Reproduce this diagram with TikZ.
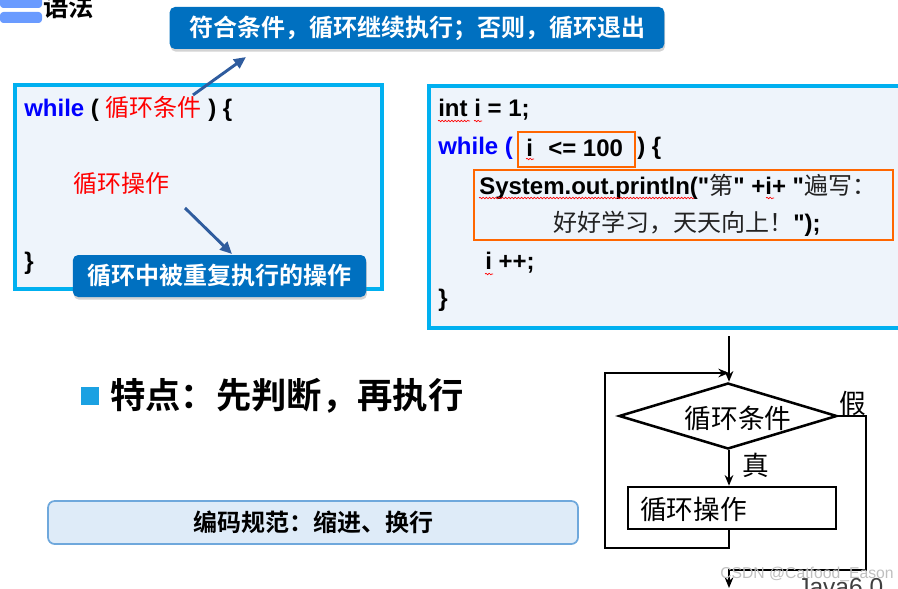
\documentclass[tikz,border=0pt]{standalone}
\usepackage{fontspec}
\setmainfont{Liberation Sans}
\newfontfamily\qfont{Liberation Sans}
\newfontfamily\cjk{Noto Sans CJK SC}[BoldFont={Noto Sans CJK SC Bold}]
\usetikzlibrary{arrows.meta,shapes.geometric,shadows,decorations.pathmorphing}
\definecolor{cyanb}{HTML}{00B0F0}
\definecolor{boxfill}{HTML}{EEF4FB}
\definecolor{tagblue}{HTML}{0070C0}
\definecolor{ptrblue}{HTML}{2F5C9E}
\definecolor{kwblue}{HTML}{0000FF}
\definecolor{orangeb}{HTML}{FF6600}
\definecolor{sqblue}{HTML}{1BA1E2}
\definecolor{notefill}{HTML}{DEEBF8}
\definecolor{noteline}{HTML}{6FA8DC}
\definecolor{iconblue}{HTML}{6A9BFF}
\definecolor{cjkgray}{HTML}{222222}
\newcommand{\fsz}[1]{\fontsize{#1}{#1}\selectfont}
\newcommand{\dq}{{\qfont\char34\relax}}
\tikzset{
  codebox/.style={draw=cyanb, fill=boxfill, line width=3pt, inner sep=0pt},
  bluetag/.style={fill=tagblue, rounded corners=4pt, inner sep=0pt, text=white,
    font=\cjk\bfseries\fsz{18},
    drop shadow={shadow xshift=0.6pt, shadow yshift=-2pt, opacity=0.35}},
  pointer/.style={draw=ptrblue, line width=2.2pt, -{Triangle[length=9pt,width=8pt]}},
  codetxt/.style={anchor=west, inner sep=0pt, font=\bfseries\fsz{18}},
  orangebox/.style={draw=orangeb, line width=2.2pt, inner sep=0pt},
  squig/.style={draw=red, line width=0.5pt, decorate,
    decoration={snake, amplitude=0.55pt, segment length=2.4pt}},
  flowline/.style={draw=black, line width=1.9pt},
  flowarrow/.style={flowline, -{Stealth[length=8pt,width=6.5pt]}},
  flowtxt/.style={inner sep=0pt, font=\cjk\fsz{20}},
}
\begin{document}
\begin{tikzpicture}[x=0.75pt,y=-0.75pt]
\useasboundingbox (0,0) rectangle (898,588);

% header icon and title
\fill[iconblue, rounded corners=2.5pt] (0,-4) rectangle (42,8);
\fill[iconblue, rounded corners=2.5pt] (0,12) rectangle (42,23);
\node (title) [anchor=base west, inner sep=0pt, font=\cjk\bfseries\fsz{19}] at (43,17) {语法};

% left code box
\node (lbox) [codebox, anchor=north west, minimum width=275.25pt, minimum height=153pt] at (13,83) {};
\node (lwhile) [codetxt] at (24,109) {{\color{kwblue}while} ( {\cjk\mdseries\color{red}循环条件} ) \{};
\node (lop) [codetxt, font=\cjk\fsz{18}, text=red] at (73,183) {循环操作};
\node (lend) [codetxt] at (24,263) {\}};

% right code box
\node (rbox) [codebox, anchor=north west, minimum width=360pt, minimum height=181.5pt] at (427,84) {};
\node (rint) [codetxt] at (438,110) {int i = 1;};
\node (rwhile) [codetxt] at (438,148) {\color{kwblue}while (};
\node (condbox) [orangebox, minimum width=87.75pt, minimum height=26.25pt] at (576.5,149.5) {};
\node (ri) [codetxt] at (526,148) {i};
\node (rle) [codetxt] at (548,148) {<= 100};
\node (rclose) [codetxt] at (637,148) {) \{};
\node (bodybox) [orangebox, minimum width=314.25pt, minimum height=52.5pt] at (683.5,205) {};
\node (rsys) [codetxt] at (479,187) {System.out.println(\dq{\cjk\mdseries\color{cjkgray}第}\dq{} +i+ \dq{\cjk\mdseries\color{cjkgray}遍写：}};
\node (rsys2) [codetxt] at (553,224) {{\cjk\mdseries\color{cjkgray}好好学习，天天向上！}\dq);};
\node (rinc) [codetxt] at (485,263) {i ++;};
\node (rend) [codetxt] at (438,300) {\}};

% spell-check squiggles
\draw[squig] (438,121) -- (470,121);
\draw[squig] (474,121) -- (482,121);
\draw[squig] (526,159) -- (534,159);
\draw[squig] (479,198) -- (694,198);
\draw[squig] (766,198) -- (774,198);
\draw[squig] (485,274) -- (493,274);

% callouts
\node (tag1) [bluetag, minimum width=371pt, minimum height=31.5pt] at (417,28) {符合条件，循环继续执行；否则，循环退出};
\node (tag2) [bluetag, minimum width=220pt, minimum height=31.5pt] at (219.5,276) {循环中被重复执行的操作};
\coordinate (p1s) at (193,95);
\coordinate (p1e) at (246,57);
\coordinate (p2s) at (185,208);
\coordinate (p2e) at (232,254);
\draw[pointer] (p1s) -- (p1e);
\draw[pointer] (p2s) -- (p2e);

% feature line
\node (bullet) [fill=sqblue, minimum size=13.5pt, inner sep=0pt] at (90,396) {};
\node (feat) [anchor=west, inner sep=0pt, font=\cjk\bfseries\fsz{26.5}] at (110,396) {特点：先判断，再执行};

% note box
\node (note) [draw=noteline, fill=notefill, line width=1.3pt, rounded corners=5pt,
  minimum width=397.5pt, minimum height=32.25pt, font=\cjk\bfseries\fsz{18}] at (313,522.5) {编码规范：缩进、换行};

% flowchart
\coordinate (fstart) at (729,336);
\node (cond) [diamond, draw, line width=1.9pt, aspect=3.3, inner sep=0pt,
  minimum width=163.5pt, minimum height=49.5pt] at (728,416) {};
\node (condtxt) [flowtxt] at (738,418) {循环条件};
\node (op) [draw, line width=1.9pt, minimum width=156pt, minimum height=31.5pt, inner sep=0pt] at (732,508) {};
\node (optxt) [flowtxt, anchor=west] at (640,509) {循环操作};
\node (fls) [flowtxt] at (853,403) {假};
\node (tru) [flowtxt] at (756,465) {真};
\coordinate (lb) at (605,548);
\coordinate (lt) at (605,373);
\coordinate (rb) at (866,570);
\coordinate (fend) at (729,588);
\draw[flowarrow] (fstart) -- (fstart |- cond.north);
\draw[flowarrow] (fstart |- cond.south) -- (fstart |- op.north);
\draw[flowarrow] (fstart |- op.south) |- (lb) -- (lt) -- (lt -| fstart);
\draw[flowarrow] (cond.east) -| (rb) -- (rb -| fend) -- (fend);

% watermark
\node (wm) [anchor=base west, inner sep=0pt, text=black!25, font=\fsz{11.8}] at (720,578) {CSDN @Catfood\_Eason};
\node (java) [anchor=base west, inner sep=0pt, text=black!75, font=\fsz{18.4}] at (797,595) {Java6.0};
\end{tikzpicture}
\end{document}
